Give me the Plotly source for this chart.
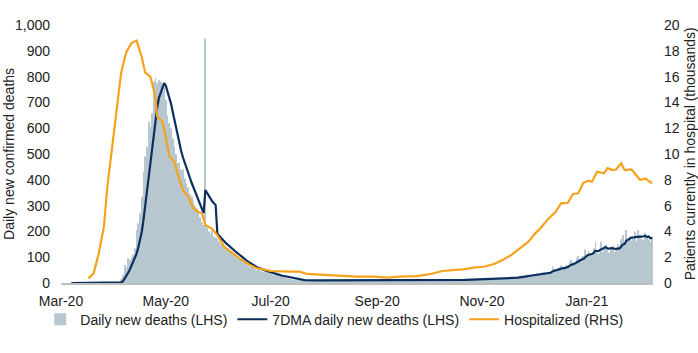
import pandas as pd
import plotly.graph_objects as go

# ---- data ----
start_date = "2020-03-01"
daily_deaths = [
    0, 0, 0, 0, 0, 0, 0, 0, 0, 0,
    0, 0, 0, 0, 0, 0, 0, 0, 0, 0,
    0, 0, 0, 0, 0, 0, 0, 0, 0, 0,
    0, 0, 0, 0, 0,
    15, 30, 70, 60, 96, 90, 100, 110, 134, 205,
    232, 270, 334, 431, 490, 528, 625, 605, 658, 780,
    795, 775, 787, 780, 748, 760, 709, 650, 620, 600,
    560, 530, 500, 465, 470, 440, 440, 405, 385, 370,
    345, 335, 320, 300, 290, 270, 255, 235, 225, 948,
    215, 200, 190, 205, 180, 175, 170, 160, 150, 155,
    140, 130, 135, 125, 120, 110, 115, 100, 95, 90,
    85, 80, 82, 72, 68, 62, 65, 58, 55, 50,
    52, 47, 45, 42, 44, 40, 38, 35, 33, 30,
    31, 28, 26, 25, 24, 22, 20, 18, 16, 15,
    14, 13, 12, 12, 11, 10, 11, 10, 9, 10,
    9, 11, 8, 10, 12, 9, 10, 8, 11, 9,
    10, 12, 9, 8, 10, 11, 9, 10, 8, 11,
    9, 10, 12, 8, 9, 11, 10, 9, 8, 10,
    11, 9, 10, 8, 9, 12, 10, 9, 8, 10,
    9, 11, 8, 10, 9, 8, 10, 11, 9, 8,
    10, 9, 11, 8, 9, 10, 12, 9, 8, 10,
    9, 11, 10, 8, 9, 10, 11, 9, 10, 8,
    10, 11, 9, 10, 12, 9, 11, 10, 12, 11,
    10, 12, 13, 11, 10, 12, 14, 11, 13, 12,
    11, 13, 14, 12, 11, 13, 15, 12, 14, 13,
    12, 14, 16, 13, 12, 15, 17, 14, 15, 16,
    14, 17, 19, 16, 15, 20, 22, 18, 20, 21,
    19, 24, 28, 25, 22, 30, 33, 28, 31, 33,
    29, 35, 38, 33, 30, 40, 44, 38, 42, 45,
    40, 65, 56, 48, 46, 60, 68, 60, 64, 70,
    68, 82, 90, 78, 76, 95, 105, 92, 100, 106,
    130, 110, 125, 108, 105, 135, 160, 125, 115, 160,
    120, 140, 150, 128, 118, 132, 145, 120, 135, 150,
    140, 170, 185, 160, 205, 165, 180, 165, 175, 200,
    160, 205, 180, 170, 165, 195, 175, 170, 160, 180,
]

# hospitalized patients (thousands): day offset from start_date, value
hosp_day = [16, 19, 22, 25, 27, 30, 33, 35, 38, 41, 44, 47, 49, 52, 55, 56,
            59, 61, 63, 66, 68, 71, 74, 77, 80, 82, 84, 88, 91, 95, 100, 105,
            110, 114, 120, 122, 133, 139, 143, 153, 162, 172, 182, 190, 197,
            207, 215, 222, 228, 234, 240, 246, 252, 257, 262, 267, 272, 276,
            279, 283, 286, 288, 291, 295, 298, 301, 304, 307, 309, 312, 316,
            318, 321, 323, 326, 328, 332, 337, 340, 344]
hosp_val = [0.36, 0.75, 2.3, 4.4, 7.5, 10.8, 14.4, 16.3, 17.9, 18.6, 18.8,
            17.5, 16.3, 16.0, 14.4, 12.9, 12.5, 11.3, 9.8, 9.4, 8.4, 7.2,
            6.7, 5.8, 5.5, 5.4, 4.5, 4.2, 3.7, 2.8, 2.3, 1.8, 1.4, 1.14, 1.0,
            0.93, 0.88, 0.88, 0.70, 0.62, 0.54, 0.49, 0.49, 0.41, 0.49, 0.54,
            0.70, 0.93, 1.0, 1.06, 1.19, 1.26, 1.47, 1.78, 2.17, 2.69, 3.2,
            3.85, 4.24, 4.88, 5.27, 5.53, 6.18, 6.22, 6.9, 6.95, 7.77, 7.93,
            7.85, 8.63, 8.5, 8.9, 8.76, 8.8, 9.28, 8.76, 8.8, 7.98, 8.1, 7.73]

tick_dates = ["2020-03-01", "2020-05-01", "2020-07-01", "2020-09-01",
              "2020-11-01", "2021-01-01"]
tick_labels = ["Mar-20", "May-20", "Jul-20", "Sep-20", "Nov-20", "Jan-21"]

# ---- derived ----
dates = pd.date_range(start_date, periods=len(daily_deaths), freq="D")
deaths = pd.Series(daily_deaths, index=dates)
dma7 = deaths.rolling(7).mean()
hosp_dates = pd.to_datetime(start_date) + pd.to_timedelta(hosp_day, unit="D")

BAR_C = "#b6c7d0"
NAVY = "#0b2f5e"
ORANGE = "#f5a31c"
TXT = "#222222"
FONT = "Liberation Sans, Arial, sans-serif"

fig = go.Figure()
fig.add_trace(go.Bar(x=dates, y=deaths.values, name="Daily new deaths (LHS)",
                     marker=dict(color=BAR_C, line=dict(width=0))))
fig.add_trace(go.Scatter(x=dates, y=dma7.values, mode="lines",
                         name="7DMA daily new deaths (LHS)",
                         line=dict(color=NAVY, width=2.2)))
fig.add_trace(go.Scatter(x=hosp_dates, y=hosp_val, mode="lines",
                         name="Hospitalized (RHS)", yaxis="y2",
                         line=dict(color=ORANGE, width=2.2)))

fig.update_layout(
    width=698, height=353,
    margin=dict(l=61, r=45, t=25, b=70),
    paper_bgcolor="white", plot_bgcolor="white",
    font=dict(family=FONT, size=14, color=TXT),
    bargap=0.5,
    showlegend=True,
    legend=dict(orientation="h", x=-0.035, xanchor="left", y=-0.08,
                yanchor="top", font=dict(size=14, color=TXT),
                itemwidth=30, tracegroupgap=0, bgcolor="rgba(0,0,0,0)"),
    xaxis=dict(type="date", range=["2020-03-01", "2021-02-08 12:00"],
               tickmode="array", tickvals=tick_dates, ticktext=tick_labels,
               showgrid=False, zeroline=False, showline=True,
               linecolor="#bfbfbf", linewidth=1.5, ticks="",
               ticklabelstandoff=4),
    yaxis=dict(range=[0, 1000], dtick=100, tickformat=",", showgrid=False,
               zeroline=False, showline=False, ticks="",
               ticklabelstandoff=10),
    yaxis2=dict(range=[0, 20], dtick=2, overlaying="y", side="right",
                showgrid=False, zeroline=False, showline=False, ticks="",
                ticklabelstandoff=10),
    annotations=[
        dict(text="Daily new confirmed deaths", xref="paper", yref="paper",
             x=-0.088, y=0.5, textangle=-90, showarrow=False,
             xanchor="center", yanchor="middle", font=dict(size=14, color=TXT)),
        dict(text="Patients currently in hospital (thousands)", xref="paper",
             yref="paper", x=1.063, y=0.5, textangle=-90, showarrow=False,
             xanchor="center", yanchor="middle", font=dict(size=14, color=TXT)),
    ],
)

fig.write_html("out.html")
